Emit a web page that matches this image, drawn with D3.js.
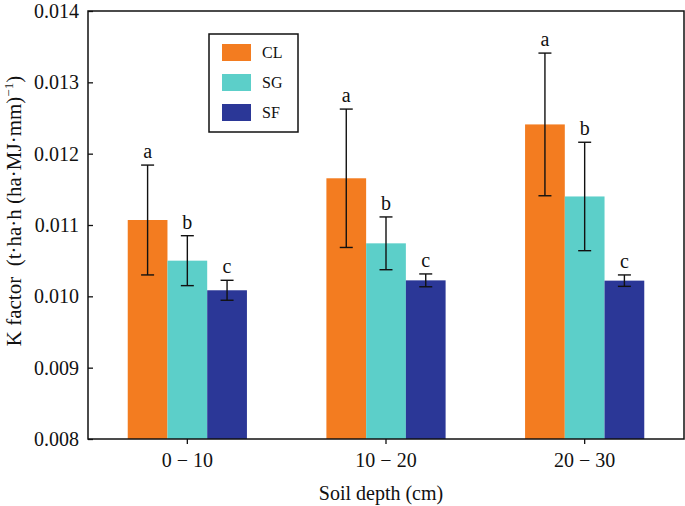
<!DOCTYPE html>
<html>
<head>
<meta charset="utf-8">
<script src="https://cdn.jsdelivr.net/npm/d3@7"></script>
<style>
html,body{margin:0;padding:0;background:#fff;}
svg{display:block;}
svg text{font-family:"Liberation Serif","Times New Roman",serif !important;}
</style>
</head>
<body>
<svg id="chart" width="685" height="506"></svg>
<script>
const categories = ["0 − 10", "10 − 20", "20 − 30"];
const seriesNames = ["CL", "SG", "SF"];
const seriesColors = ["#F37C20", "#5CCFC9", "#2B3797"];
const CL = [0.01107, 0.011655, 0.01241];
const SG = [0.01050, 0.010743, 0.01140];
const SF = [0.010085, 0.010224, 0.01022];
const CL_err = [0.00077, 0.00097, 0.00100];
const SG_err = [0.00035, 0.00037, 0.00076];
const SF_err = [0.00014, 0.00009, 0.00008];
const CL_sig = ["a", "a", "a"];
const SG_sig = ["b", "b", "b"];
const SF_sig = ["c", "c", "c"];
const yTicks = [0.008, 0.009, 0.010, 0.011, 0.012, 0.013, 0.014];

const values = [CL, SG, SF];
const errs = [CL_err, SG_err, SF_err];
const sigs = [CL_sig, SG_sig, SF_sig];

const W = 685, H = 506;
const m = {left: 88, right: 1, top: 11, bottom: 67};
const svg = d3.select("#chart");
const g = svg.append("g").attr("transform", `translate(${m.left},${m.top})`);
const iw = W - m.left - m.right, ih = H - m.top - m.bottom;

const x = d3.scaleBand().domain(categories).range([0, iw]).padding(0);
const x1 = d3.scaleBand().domain(seriesNames).range([0, x.bandwidth() * 0.6]).padding(0);
const groupOffset = x.bandwidth() * 0.2;
const y = d3.scaleLinear().domain([0.008, 0.014]).range([ih, 0]);

const data = [];
categories.forEach((c, i) => {
  seriesNames.forEach((s, j) => {
    data.push({cat: c, s: s, j: j, v: values[j][i], e: errs[j][i], sig: sigs[j][i]});
  });
});

// bars
g.selectAll("rect.bar").data(data).enter().append("rect")
  .attr("class", "bar")
  .attr("x", d => x(d.cat) + groupOffset + x1(d.s))
  .attr("width", x1.bandwidth())
  .attr("y", d => y(d.v))
  .attr("height", d => y(0.008) - y(d.v))
  .attr("fill", d => seriesColors[d.j]);

// error bars
const cx = d => x(d.cat) + groupOffset + x1(d.s) + x1.bandwidth() / 2;
const cap = 6.5;
const eb = g.selectAll("g.err").data(data).enter().append("g").attr("class", "err")
  .attr("stroke", "#111").attr("stroke-width", 1.4);
eb.append("line").attr("x1", cx).attr("x2", cx)
  .attr("y1", d => y(d.v + d.e)).attr("y2", d => y(d.v - d.e));
eb.append("line").attr("x1", d => cx(d) - cap).attr("x2", d => cx(d) + cap)
  .attr("y1", d => y(d.v + d.e)).attr("y2", d => y(d.v + d.e));
eb.append("line").attr("x1", d => cx(d) - cap).attr("x2", d => cx(d) + cap)
  .attr("y1", d => y(d.v - d.e)).attr("y2", d => y(d.v - d.e));

// significance letters
g.selectAll("text.sig").data(data).enter().append("text")
  .attr("class", "sig")
  .attr("x", cx)
  .attr("y", d => y(d.v + d.e) - 7)
  .attr("text-anchor", "middle")
  .attr("font-size", 20)
  .attr("fill", "#111")
  .text(d => d.sig);

// axes
const yAxis = d3.axisLeft(y).tickValues(yTicks).tickFormat(d3.format(".3f")).tickSizeInner(-5).tickSizeOuter(0).tickPadding(9);
const ya = g.append("g").call(yAxis);
ya.select(".domain").remove();
ya.selectAll("line").attr("stroke", "#111").attr("stroke-width", 1.3);
ya.selectAll("text").attr("font-size", 20).attr("fill", "#111");

const xAxis = d3.axisBottom(x).tickSizeInner(5).tickSizeOuter(0).tickPadding(9);
const xa = g.append("g").attr("transform", `translate(0,${ih})`).call(xAxis);
xa.select(".domain").remove();
xa.selectAll("line").attr("stroke", "#111").attr("stroke-width", 1.3);
xa.selectAll("text").attr("font-size", 20).attr("fill", "#111");

// frame
g.append("rect").attr("x", 0).attr("y", 0).attr("width", iw).attr("height", ih)
  .attr("fill", "none").attr("stroke", "#111").attr("stroke-width", 1.5);

// axis titles
svg.append("text")
  .attr("x", m.left + iw / 2 - 5).attr("y", 500)
  .attr("text-anchor", "middle").attr("font-size", 20).attr("fill", "#111")
  .text("Soil depth (cm)");

const yt = svg.append("text")
  .attr("transform", `translate(21,${211}) rotate(-90)`)
  .attr("text-anchor", "middle").attr("font-size", 21).attr("fill", "#111");
yt.append("tspan").text("K factor\u00A0\u00A0(t·ha·h (ha·MJ·mm)");
yt.append("tspan").attr("font-size", 13).attr("dy", -8).text("−1");
yt.append("tspan").attr("dy", 8).text(")");

// legend
const lg = svg.append("g").attr("transform", "translate(209,34)");
lg.append("rect").attr("width", 89).attr("height", 98).attr("fill", "#fff")
  .attr("stroke", "#111").attr("stroke-width", 1.5);
seriesNames.forEach((s, j) => {
  const row = lg.append("g").attr("transform", `translate(13,${10 + j * 30})`);
  row.append("rect").attr("width", 29).attr("height", 17).attr("fill", seriesColors[j]);
  row.append("text").attr("x", 40).attr("y", 14).attr("font-size", 16).attr("fill", "#111").text(s);
});
</script>
</body>
</html>
